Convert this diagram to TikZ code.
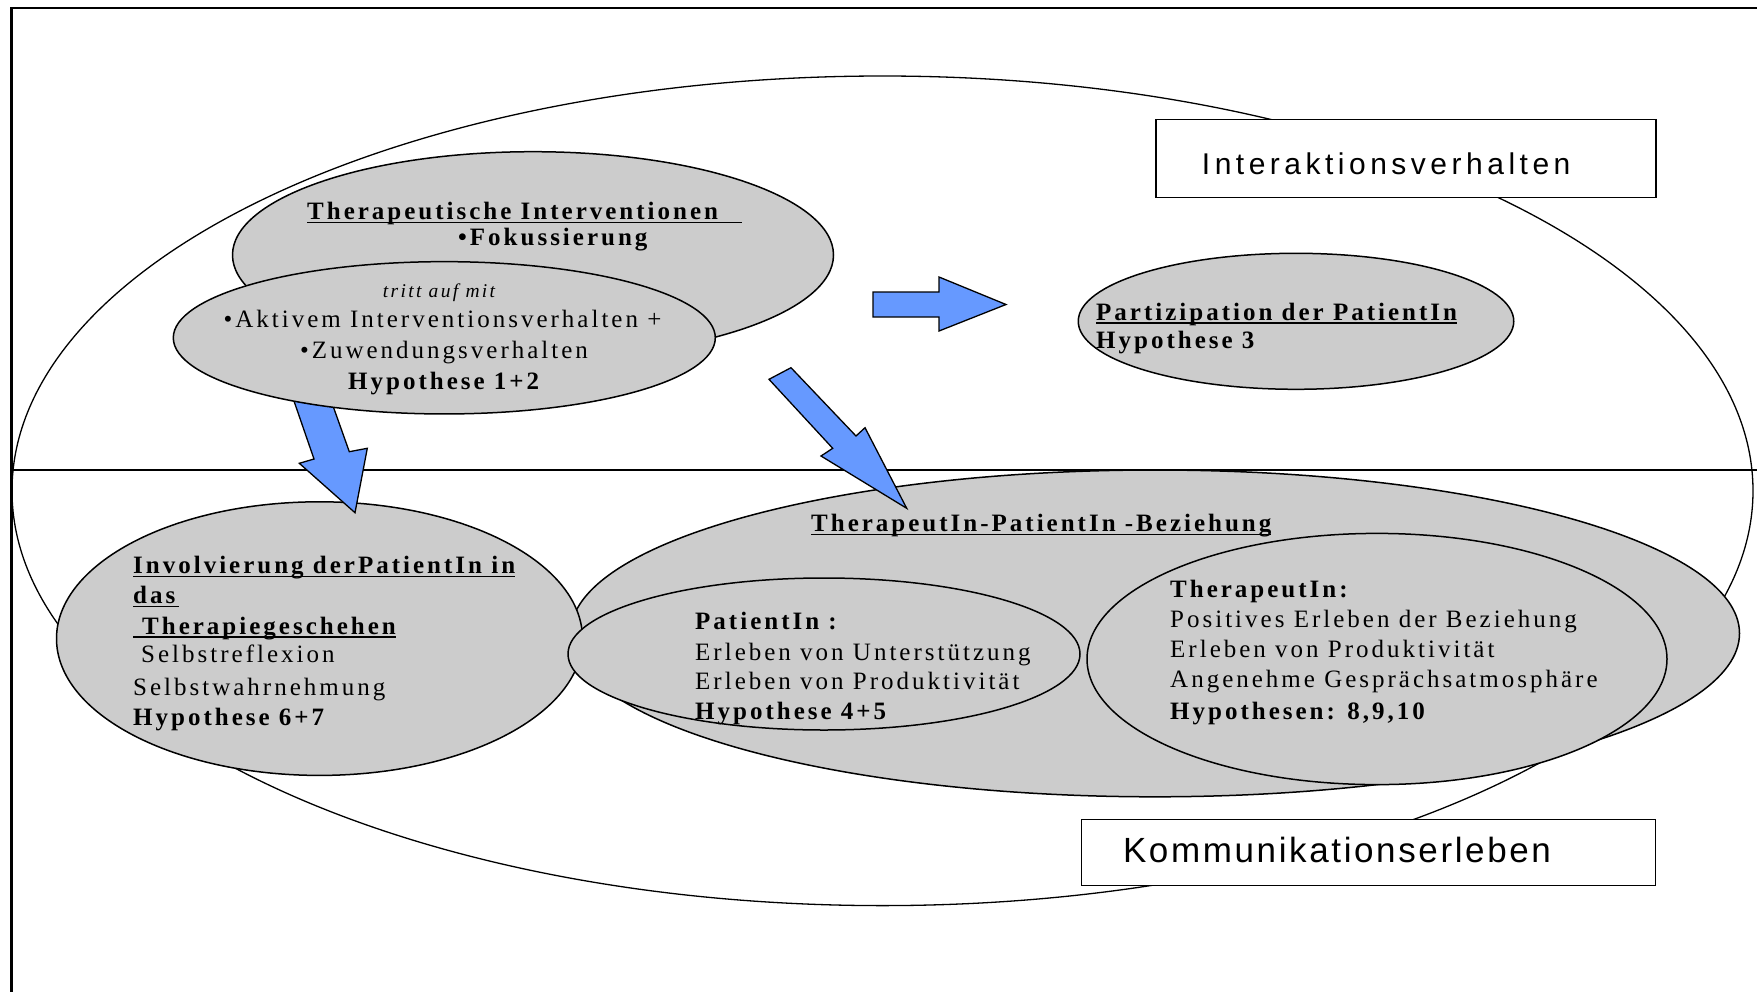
\documentclass[tikz,border=0pt]{standalone}
\usepackage{fontspec}
\setmainfont{Liberation Serif}[LetterSpace=12]
\newfontfamily\sansA{Liberation Sans}[LetterSpace=15]
\newfontfamily\sansB{Liberation Sans}[LetterSpace=7.5]
\usetikzlibrary{shapes.geometric}
\definecolor{ellgray}{HTML}{CCCCCC}
\definecolor{arrblue}{HTML}{6699FF}
\newcommand\ulx[2][0pt]{\setbox0\hbox{#2\hspace{#1}}\rlap{\rule[-3.8pt]{\wd0}{1.4pt}}\box0}
\tikzset{
  ell/.style={ellipse, draw=black, line width=1.5pt, fill=ellgray, inner sep=0pt, outer sep=0pt},
  txt/.style={anchor=base west, inner sep=0pt, font=\fontsize{25}{29}\selectfont},
  txtc/.style={txt, anchor=base},
  bld/.style={font=\fontsize{25}{29}\selectfont\bfseries},
  blockarrow/.style={draw=black, line width=1.3pt, fill=arrblue, line join=miter},
  labelbox/.style={draw=black, line width=1.5pt, fill=white, inner sep=0pt, outer sep=0pt},
}
\begin{document}
\begin{tikzpicture}[x=1pt,y=-1pt]
\useasboundingbox (0,0) rectangle (1757,991);
% frame
\draw[line width=2.5pt] (11.5,1000) -- (11.5,8) -- (1770,8);
% outer ellipse
\node[ellipse, draw=black, line width=1.3pt, inner sep=0pt, outer sep=0pt,
      minimum width=1741pt, minimum height=829.6pt] (outer) at (882.5,490.8) {};
\coordinate (hl) at (11.5,470);
\coordinate (hr) at (1760,470);
\draw[line width=1.5pt] (hl) -- (hr);
% label boxes
\node[labelbox, minimum width=500pt, minimum height=78pt] (ibox) at (1406,158.3) {};
\node[labelbox, minimum width=574pt, minimum height=66.3pt] (kbox) at (1368.5,852.4) {};
% gray ellipses
\node[ell, minimum width=1169pt, minimum height=326.8pt] (rel) at (1155,633.4) {};
\node[ell, minimum width=526pt, minimum height=273.6pt] (inv) at (319.5,638.6) {};
\node[ell, minimum width=512pt, minimum height=152pt] (pat) at (824,654) {};
\node[ell, minimum width=580pt, minimum height=251.2pt] (ther) at (1377,659) {};
\node[ell, minimum width=435.5pt, minimum height=136pt] (part) at (1296,321.3) {};
% arrow B (behind the upper ellipses)
\draw[blockarrow] (285,375) -- (322,375) -- (349.3,451.7) -- (367.3,448.3) -- (355,512.7)
   -- (299.3,463.3) -- (314,459) -- cycle;
% top ellipses
\node[ell, minimum width=601pt, minimum height=206.6pt] (ti) at (533,255) {};
\node[ell, minimum width=542pt, minimum height=152.3pt] (tam) at (444.3,337.8) {};
% arrows A and C
\draw[blockarrow] (873,292) -- (939,292) -- (939,277) -- (1006,304.5) -- (939,331)
   -- (939,317) -- (873,317) -- cycle;
\draw[blockarrow] (791,367.7) -- (856,436) -- (865,427.7) -- (906.7,508.3) -- (821,456)
   -- (832.7,448.3) -- (769,379.3) -- cycle;
% texts: Therapeutische Interventionen
\node[txt, bld] (t1a) at (307,219.3) {\ulx[24pt]{Therapeutische Interventionen}};
\node[txt, bld] (t1b) at (458,245) {•Fokussierung};
% tritt auf mit
\node[txtc, font=\fontsize{19.5}{23}\selectfont\itshape] (t2a) at (439,297.3) {tritt auf mit};
\node[txtc] (t2b) at (442.5,327.3) {•Aktivem Interventionsverhalten +};
\node[txtc] (t2c) at (444,358.3) {•Zuwendungsverhalten};
\node[txtc, bld] (t2d) at (443.7,389.3) {Hypothese 1+2};
% Partizipation
\node[txt, bld] (t3a) at (1096,320) {\ulx{Partizipation der PatientIn}};
\node[txt, bld] (t3b) at (1096,348.3) {Hypothese 3};
% Involvierung
\node[txt, bld] (t4a) at (133,573.5) {\ulx{Involvierung derPatientIn in}};
\node[txt, bld] (t4b) at (133,603.6) {\ulx[4pt]{das}};
\node[txt, bld] (t4c) at (133,634) {\ulx{\hspace{9pt}Therapiegeschehen}};
\node[txt] (t4d) at (141,662.2) {Selbstreflexion};
\node[txt] (t4e) at (133,695.5) {Selbstwahrnehmung};
\node[txt, bld] (t4f) at (133,725) {Hypothese 6+7};
% Beziehung
\node[txt, bld] (t5a) at (811,531.5) {\ulx{TherapeutIn-PatientIn -Beziehung}};
% PatientIn
\node[txt, bld] (t6a) at (695,629) {PatientIn :};
\node[txt] (t6b) at (695,660) {Erleben von Unterstützung};
\node[txt] (t6c) at (695,689.3) {Erleben von Produktivität};
\node[txt, bld] (t6d) at (695,719.3) {Hypothese 4+5};
% TherapeutIn
\node[txt, bld] (t7a) at (1170,597.7) {TherapeutIn:};
\node[txt] (t7b) at (1170,627.7) {Positives Erleben der Beziehung};
\node[txt] (t7c) at (1170,657) {Erleben von Produktivität};
\node[txt] (t7d) at (1170,687.4) {Angenehme Gesprächsatmosphäre};
\node[txt, bld] (t7e) at (1170,719.2) {Hypothesen: 8,9,10};
% box labels
\node[txt, font=\fontsize{30}{34}\sansA] (ilab) at (1201.7,174.3) {Interaktionsverhalten};
\node[txt, font=\fontsize{35}{40}\sansB] (klab) at (1122.8,862.7) {Kommunikationserleben};
\end{tikzpicture}
\end{document}
